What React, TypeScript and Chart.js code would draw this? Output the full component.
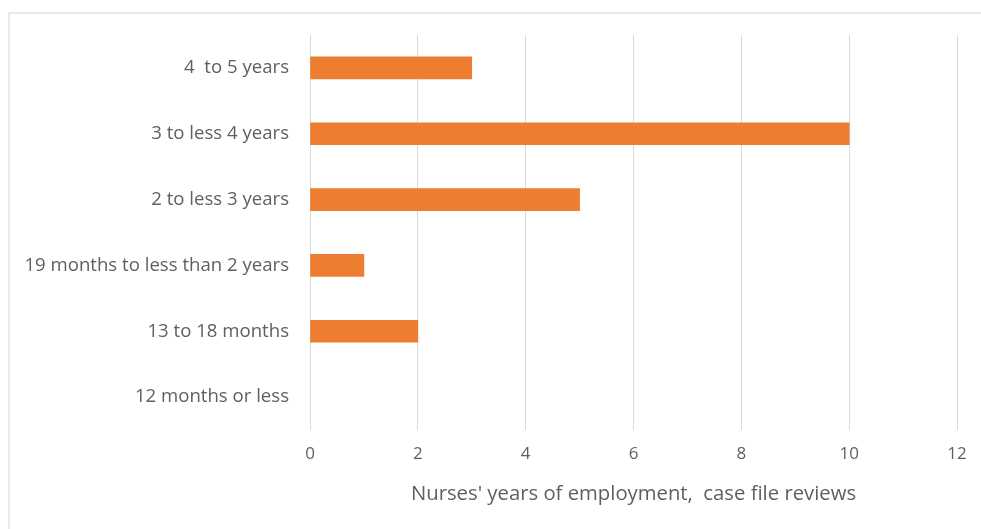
import React, { useEffect, useRef } from "react";
import { Chart, registerables } from "chart.js";

Chart.register(...registerables);

const categories = [
  "4  to 5 years",
  "3 to less 4 years",
  "2 to less 3 years",
  "19 months to less than 2 years",
  "13 to 18 months",
  "12 months or less",
];
const values = [3, 10, 5, 1, 2, 0];
const axisTitle = "Nurses' years of employment,  case file reviews";

const FONT = "'Open Sans', Lato, sans-serif";
const TEXT = "#5f5f5f";

export default function App() {
  const ref = useRef<HTMLCanvasElement | null>(null);

  useEffect(() => {
    if (!ref.current) return;
    const chart = new Chart(ref.current, {
      type: "bar",
      data: {
        labels: categories,
        datasets: [
          {
            data: values,
            backgroundColor: (ctx: any) =>
              ctx.raw === 0 ? "rgba(0,0,0,0)" : "#ED7D31",
            borderWidth: 0,
            barThickness: 22,
          },
        ],
      },
      options: {
        indexAxis: "y",
        animation: false,
        responsive: false,
        maintainAspectRatio: false,
        layout: { padding: { top: 35, right: 24, left: 0, bottom: 0 } },
        plugins: {
          legend: { display: false },
          tooltip: { enabled: false },
        },
        scales: {
          x: {
            min: 0,
            max: 12,
            ticks: {
              stepSize: 2,
              color: TEXT,
              font: { family: FONT, size: 17 },
              padding: 14,
            },
            grid: { color: "#d9d9d9", lineWidth: 1, drawTicks: false },
            border: { display: false },
            title: {
              display: true,
              text: axisTitle,
              color: TEXT,
              font: { family: FONT, size: 20.3 },
              padding: { top: 4, bottom: 23 },
            },
            afterFit: (scale: any) => {
              scale.height = 99;
            },
          },
          y: {
            ticks: {
              color: TEXT,
              font: { family: FONT, size: 18.6 },
              padding: 21,
            },
            grid: { display: false, drawTicks: false },
            border: { display: false },
            afterFit: (scale: any) => {
              scale.width = 310;
            },
          },
        },
      },
    });
    return () => chart.destroy();
  }, []);

  return (
    <div
      style={{
        position: "fixed",
        left: 0,
        top: 0,
        width: 981,
        height: 529,
        background: "#ffffff",
      }}
    >
      <div
        style={{
          position: "absolute",
          left: 8,
          top: 12,
          width: 990,
          height: 540,
          borderTop: "2px solid #e8e8e8",
          borderLeft: "2px solid #e8e8e8",
        }}
      />
      <canvas
        ref={ref}
        width={981}
        height={529}
        style={{ position: "absolute", left: 0, top: 0, width: 981, height: 529 }}
      />
    </div>
  );
}
